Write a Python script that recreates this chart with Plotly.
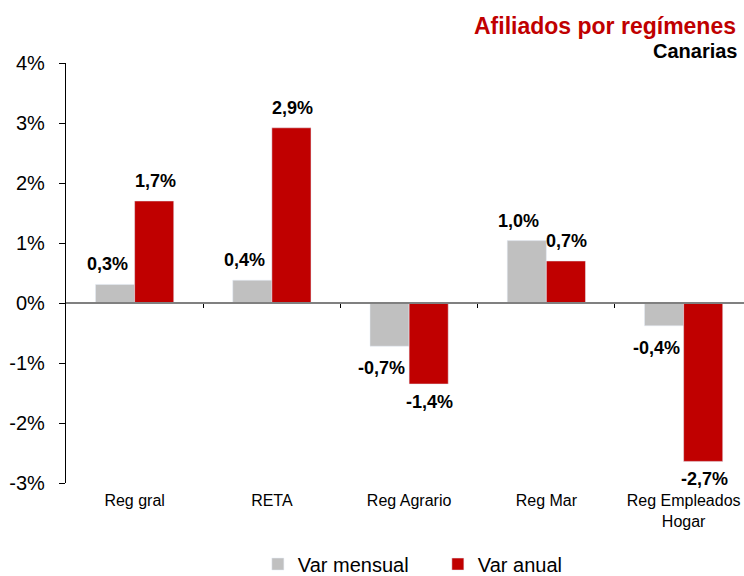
import plotly.graph_objects as go

categories = ["Reg gral", "RETA", "Reg Agrario", "Reg Mar", "Reg Empleados<br>Hogar"]
var_mensual = [0.31, 0.38, -0.72, 1.04, -0.38]
var_anual = [1.70, 2.92, -1.35, 0.70, -2.64]
labels_mensual = ["0,3%", "0,4%", "-0,7%", "1,0%", "-0,4%"]
labels_anual = ["1,7%", "2,9%", "-1,4%", "0,7%", "-2,7%"]
y_ticks = [-3, -2, -1, 0, 1, 2, 3, 4]
y_ticklabels = [f"{v}%" for v in y_ticks]

FONT = "Liberation Sans, Arial, sans-serif"
x = list(range(len(categories)))
BARGAP = 0.43
half = (1 - BARGAP) / 4  # centre offset of each bar within a group

fig = go.Figure()
fig.add_trace(go.Bar(x=x, y=var_mensual, name="Var mensual", marker_color="#C0C0C0"))
fig.add_trace(go.Bar(x=x, y=var_anual, name="Var anual", marker_color="#C00000"))

# value labels
for vals, labs, dx, xs, neg in ((var_mensual, labels_mensual, -half, -8, -22),
                                (var_anual, labels_anual, half, 1, -18)):
    for i, (v, t) in enumerate(zip(vals, labs)):
        fig.add_annotation(x=i + dx, y=v, text=f"<b>{t}</b>", showarrow=False,
                           xshift=xs, yshift=20 if v >= 0 else neg,
                           font=dict(family=FONT, size=18, color="black"))

xr = [-0.5, 4.44]
fig.update_layout(
    width=744, height=576,
    margin=dict(l=66, r=0, t=63, b=93, autoexpand=False),
    paper_bgcolor="white", plot_bgcolor="white",
    barmode="group", bargap=BARGAP, bargroupgap=0,
    font=dict(family=FONT, color="black"),
    showlegend=True,
    legend=dict(orientation="h", x=0.283, xanchor="left", y=-0.193, yanchor="middle",
                font=dict(size=20, family=FONT), entrywidth=135, traceorder="normal"),
    xaxis=dict(range=xr, tickvals=x, ticktext=categories, showline=False, showgrid=False,
               zeroline=False, ticks="", tickfont=dict(size=16, family=FONT),
               ticklabelstandoff=6),
    xaxis2=dict(range=xr, overlaying="x", anchor="free", position=3/7, showline=True,
                linecolor="#808080", linewidth=1.5, ticks="outside", ticklen=4,
                tickcolor="black", tickvals=[0.5, 1.5, 2.5, 3.5], showticklabels=False,
                showgrid=False, zeroline=False),
    yaxis=dict(range=[-3, 4], tickvals=y_ticks, ticktext=y_ticklabels, showline=True,
               linecolor="black", linewidth=1.2, ticks="outside", ticklen=6,
               tickcolor="black", showgrid=False, zeroline=False,
               tickfont=dict(size=20, family=FONT), ticklabelstandoff=10),
)
fig.add_trace(go.Scatter(x=[0], y=[0], xaxis="x2", mode="markers", marker=dict(opacity=0),
                         showlegend=False, hoverinfo="skip"))

fig.add_annotation(text="<b>Afiliados por regímenes</b>", xref="paper", yref="paper",
                   x=1, y=1, xanchor="right", yanchor="bottom", yshift=22, xshift=-6,
                   showarrow=False, font=dict(size=23, color="#C00000", family=FONT))
fig.add_annotation(text="<b>Canarias</b>", xref="paper", yref="paper",
                   x=1, y=1, xanchor="right", yanchor="bottom", yshift=-1, xshift=-4,
                   showarrow=False, font=dict(size=20, color="black", family=FONT))

fig.write_html("out.html", config={"displayModeBar": False},
               post_script="document.body.style.margin='0px';document.body.style.overflow='hidden';")
